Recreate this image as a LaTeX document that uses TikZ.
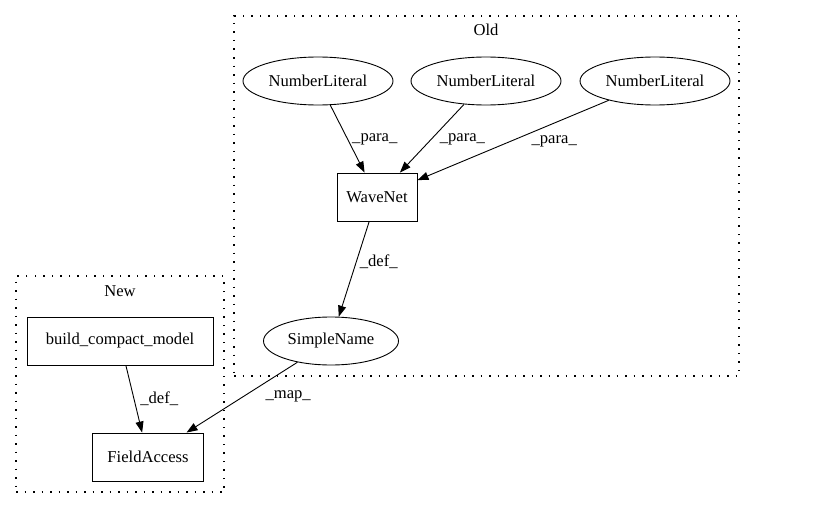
\documentclass[tikz,border=0pt]{standalone}
\usepackage{fontspec}
\setmainfont{Liberation Serif}
\usepackage{tikz}
\usetikzlibrary{shapes.geometric,arrows.meta}

\begin{document}
\begin{tikzpicture}
  [x=1pt,y=-1pt,font=\fontsize{16.6}{19}\selectfont,line width=0.9pt,
   every node/.style={inner sep=0pt},
   lit/.style={ellipse,draw,minimum width=150,minimum height=48},
   box/.style={rectangle,draw,minimum height=48},
   cluster/.style={rectangle,draw,dash pattern=on 1.5pt off 7pt,line width=1.3pt},
   elbl/.style={anchor=west,inner sep=1pt},
   edge/.style={-{Triangle[length=11pt,width=8pt]}}]
  \useasboundingbox (0,0) rectangle (829,508);

  % clusters
  \node[cluster,minimum width=505,minimum height=360] (old) at (486.5,196) {};
  \node (oldlbl) at (486,30) {Old};
  \node[cluster,minimum width=208,minimum height=216] (new) at (120,384) {};
  \node (newlbl) at (120,291) {New};

  \node[lit] (n1) at (318,81) {NumberLiteral};
  \node[lit] (n2) at (486,81) {NumberLiteral};
  \node[lit] (n3) at (655,81) {NumberLiteral};
  \node[box,minimum width=80] (wave) at (377,197) {WaveNet};
  \node[lit,minimum width=135] (simple) at (331,341) {SimpleName};
  \node[box,minimum width=186] (build) at (120,341) {build\_compact\_model};
  \node[box,minimum width=111] (field) at (148,457) {FieldAccess};

  \draw[edge] (n1) -- node[elbl,pos=.51,xshift=3] {\_para\_} (wave);
  \draw[edge] (n2) -- node[elbl,pos=.51,xshift=7] {\_para\_} (wave);
  \draw[edge] (n3) -- node[elbl,pos=.51,xshift=19] {\_para\_} (wave);
  \draw[edge] (wave) -- node[elbl,pos=.42,xshift=2] {\_def\_} (simple);
  \draw[edge] (build) -- node[elbl,pos=.49,xshift=5] {\_def\_} (field);
  \draw[edge] (simple) -- node[elbl,pos=.49,xshift=21] {\_map\_} (field);

\end{tikzpicture}
\end{document}
